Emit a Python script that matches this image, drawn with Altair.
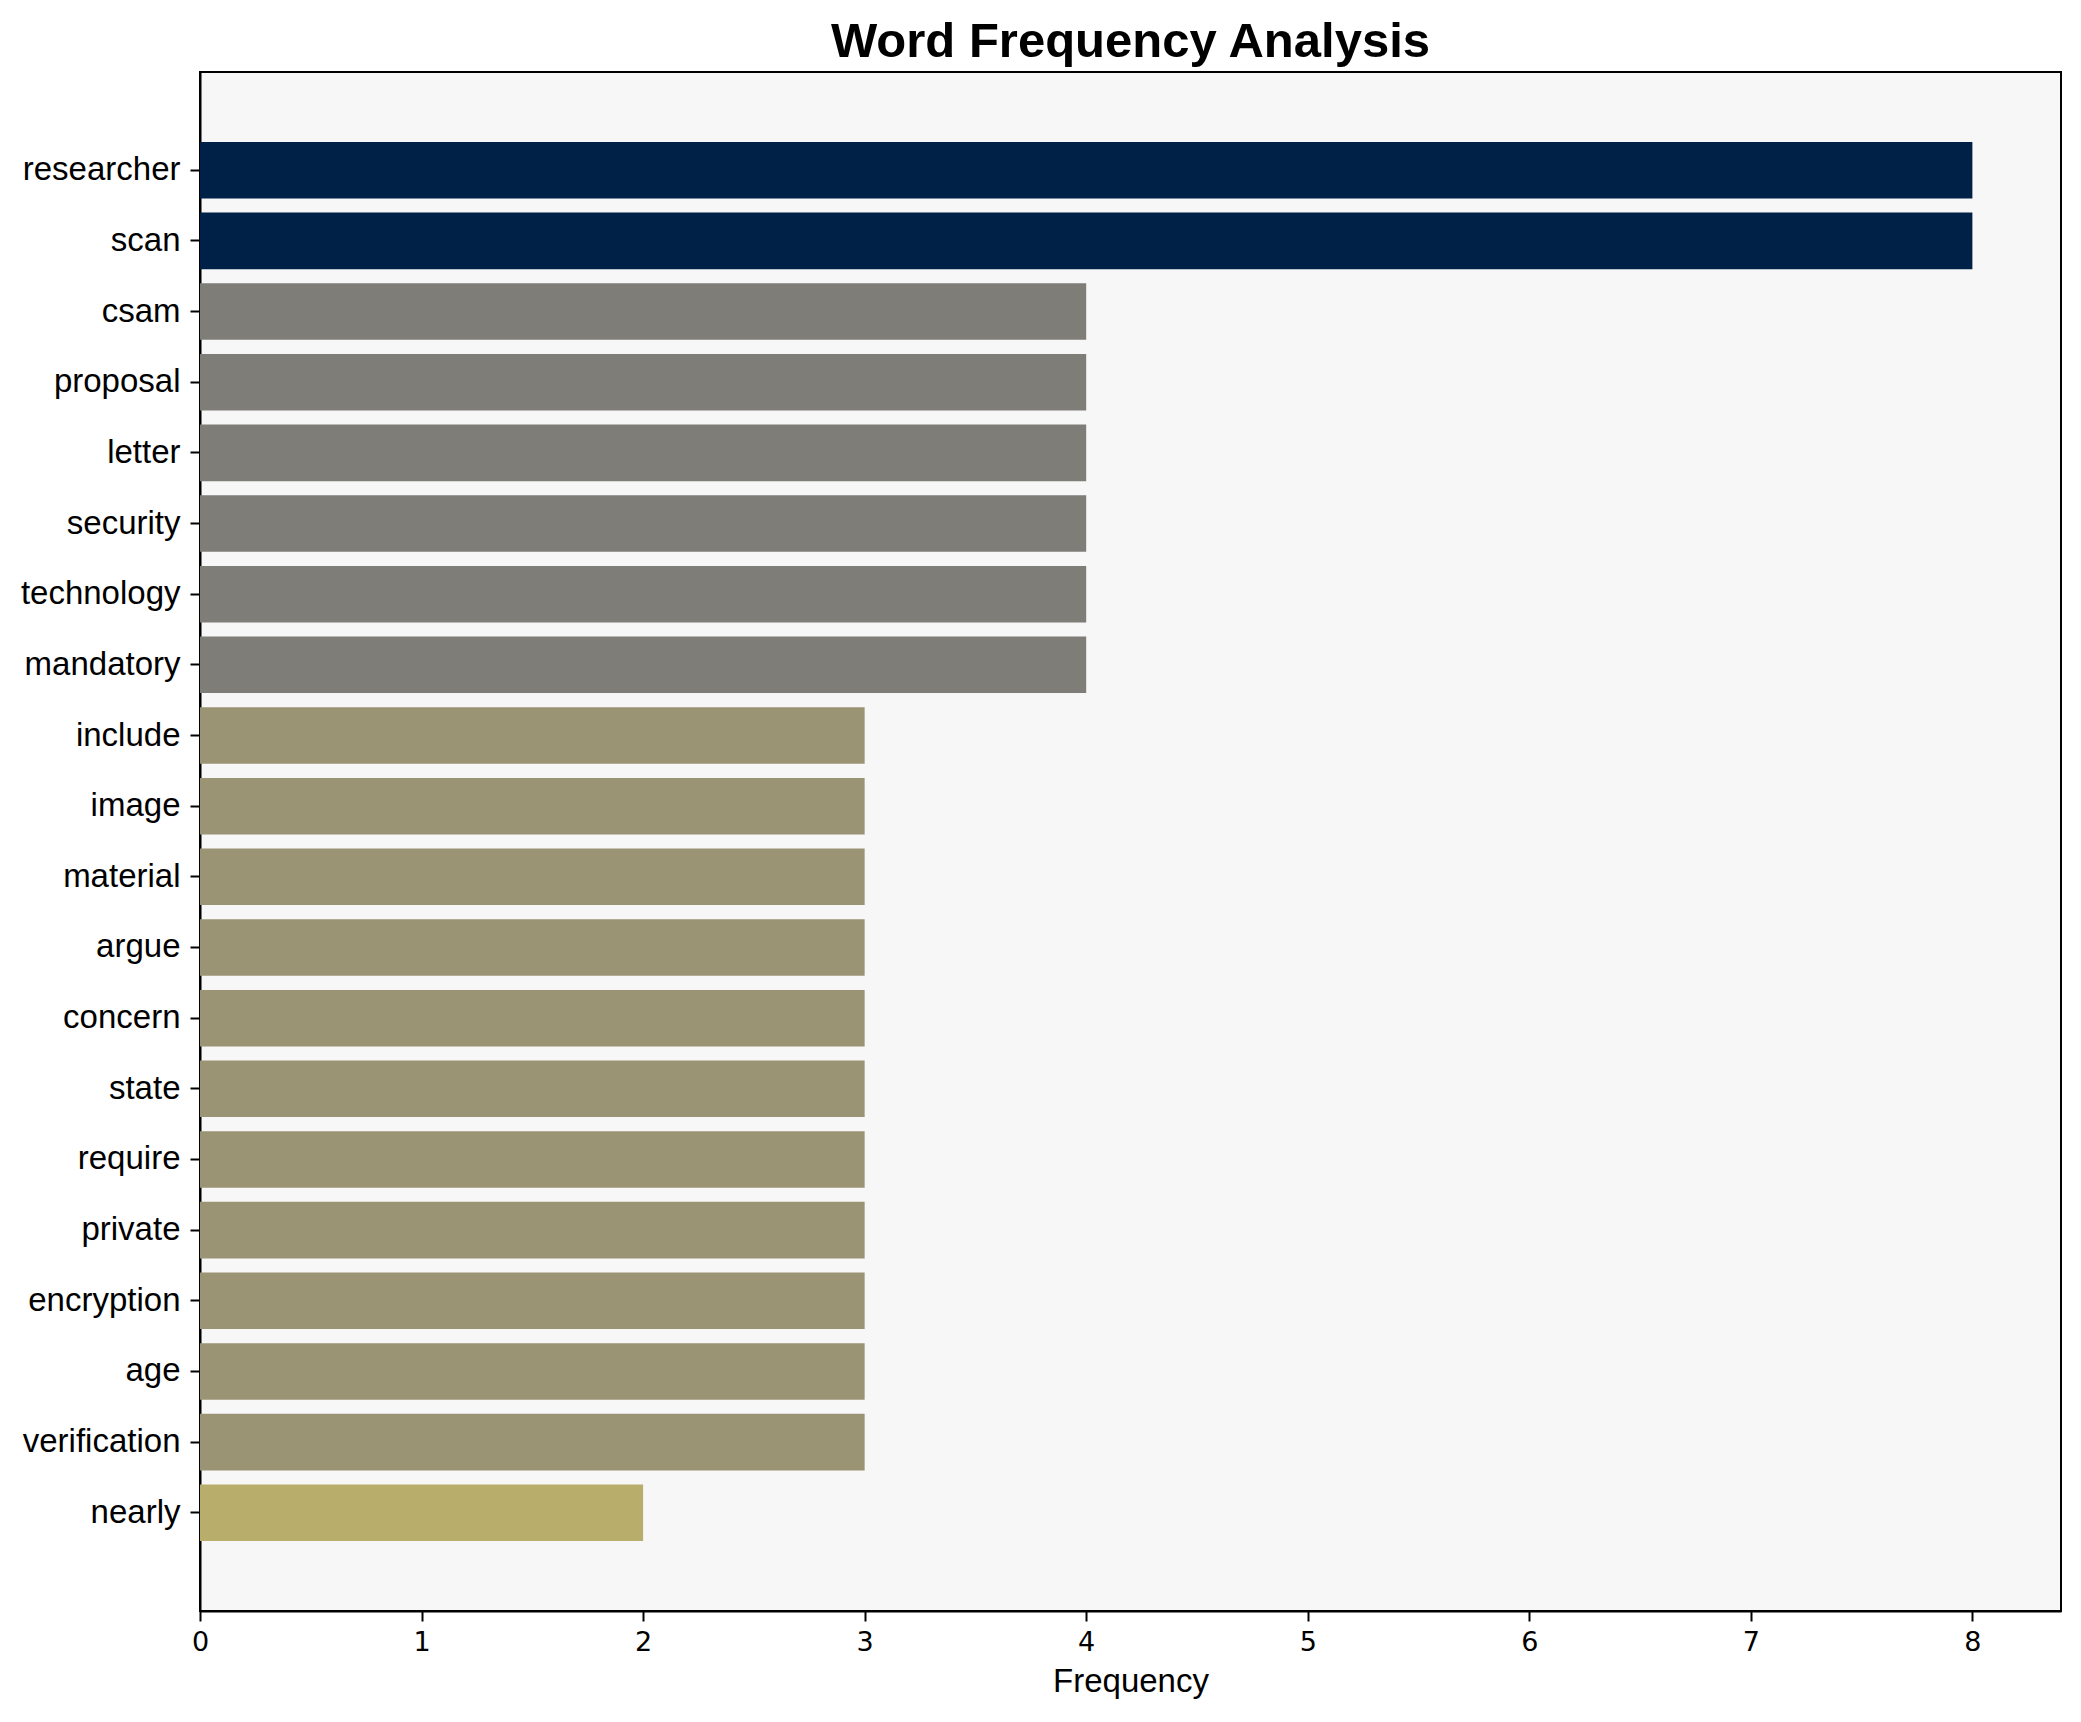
import altair as alt
import pandas as pd

words = ["researcher", "scan", "csam", "proposal", "letter", "security", "technology",
         "mandatory", "include", "image", "material", "argue", "concern", "state",
         "require", "private", "encryption", "age", "verification", "nearly"]
frequencies = [8, 8, 4, 4, 4, 4, 4, 4, 3, 3, 3, 3, 3, 3, 3, 3, 3, 3, 3, 2]

color_levels = ["8", "4", "3", "2"]
color_values = ["#002147", "#7e7d78", "#9b9474", "#b9ad6c"]

df = pd.DataFrame({"word": words, "freq": frequencies,
                   "level": [str(f) for f in frequencies]})

bars = alt.Chart(df).mark_bar().encode(
    x=alt.X("freq:Q",
            scale=alt.Scale(domain=[0, 8.4], nice=False, zero=True),
            axis=alt.Axis(title="Frequency", values=[0, 1, 2, 3, 4, 5, 6, 7, 8],
                          format="d", grid=False, labelFlush=False,
                          labelFont="DejaVu Sans", labelFontSize=27, labelColor="#000000",
                          labelPadding=8, tickSize=10, tickWidth=2, tickColor="#000000",
                          domainColor="#000000", domainWidth=2,
                          titleFont="Liberation Sans", titleFontSize=33,
                          titleFontWeight="normal", titleColor="#000000",
                          titlePadding=10)),
    y=alt.Y("word:N", sort=words,
            scale=alt.Scale(paddingInner=0.2, paddingOuter=0.99),
            axis=alt.Axis(title=None, labelFont="Liberation Sans", labelFontSize=33,
                          labelColor="#000000", labelPadding=10, tickSize=10,
                          tickWidth=2, tickColor="#000000",
                          domainColor="#000000", domainWidth=2)),
    color=alt.Color("level:N", scale=alt.Scale(domain=color_levels, range=color_values),
                    legend=None),
).properties(
    width=1861,
    height=1539,
    title=alt.TitleParams("Word Frequency Analysis", font="Liberation Sans",
                          fontSize=49, fontWeight="bold", color="#000000",
                          anchor="middle", baseline="bottom", offset=6, dy=50),
    autosize=alt.AutoSizeParams(type="none"),
    padding={"left": 192, "top": 64, "right": 12, "bottom": 100},
).configure(
    background="#ffffff",
    view=alt.ViewConfig(fill="#f7f7f7", stroke="#000000", strokeWidth=2),
)

bars.save("out.html", embed_options={"renderer": "svg", "actions": False})
